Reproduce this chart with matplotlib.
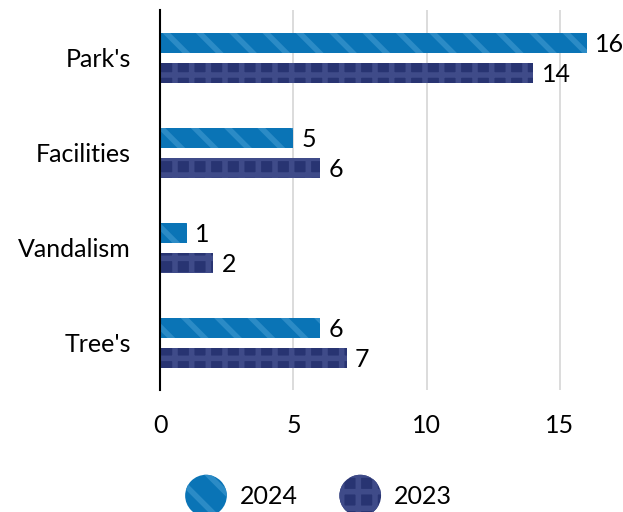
import matplotlib
matplotlib.use('Agg')
import matplotlib.pyplot as plt
import matplotlib.patches as mpatches
from matplotlib.legend_handler import HandlerPatch
import numpy as np

plt.rcParams['font.family'] = ['Lato', 'DejaVu Sans']
plt.rcParams['hatch.linewidth'] = 4.0

categories = ["Tree's", "Vandalism", "Facilities", "Park's"]
values_2024 = [6, 1, 5, 16]
values_2023 = [7, 2, 6, 14]
series_names = ['2024', '2023']

color_2024 = '#0a74b6'
hatch_2024 = '#2b8bc6'
color_2023 = '#283472'
hatch_2023 = '#3f4b89'

fig = plt.figure(figsize=(6.23, 5.12), dpi=100)
ax = fig.add_axes([0.257, 0.238, 0.706, 0.742])

y = np.arange(len(categories))
h = 0.21
off = 0.158

b1 = ax.barh(y + off, values_2024, height=h, color=color_2024, edgecolor=hatch_2024,
             linewidth=0, hatch='\\', label=series_names[0], zorder=3)
b2 = ax.barh(y - off, values_2023, height=h, color=color_2023, edgecolor=hatch_2023,
             linewidth=0, hatch='+', label=series_names[1], zorder=3)

for bars, vals in ((b1, values_2024), (b2, values_2023)):
    for bar, v in zip(bars, vals):
        ax.annotate(str(v), (v, bar.get_y() + bar.get_height() / 2),
                    xytext=(6, -1.5), textcoords='offset points',
                    ha='left', va='center', fontsize=18)

ax.set_xlim(0, 16.5)
ax.set_ylim(-0.5, 3.5)
ax.set_xticks([0, 5, 10, 15])
ax.set_yticks(y)
ax.set_yticklabels(categories)
ax.tick_params(axis='both', length=0, labelsize=18)
ax.tick_params(axis='y', pad=21)
ax.tick_params(axis='x', pad=17)
ax.grid(axis='x', color='#d9d9d9', linewidth=1.3, zorder=0)
for s in ['top', 'right', 'bottom']:
    ax.spines[s].set_visible(False)
ax.spines['left'].set_linewidth(1.5)
ax.spines['left'].set_zorder(4)


class HandlerCircle(HandlerPatch):
    def create_artists(self, legend, orig_handle, xdescent, ydescent,
                       width, height, fontsize, trans):
        center = (0.5 * width - xdescent, 0.5 * height - ydescent)
        p = mpatches.Circle(center, radius=15)
        self.update_prop(p, orig_handle, legend)
        p.set_transform(trans)
        return [p]


fig.legend(handles=[b1.patches[0], b2.patches[0]], labels=series_names,
           handler_map={mpatches.Rectangle: HandlerCircle()},
           loc='center', bbox_to_anchor=(0.512, 0.032), ncol=2, frameon=False,
           fontsize=18, handlelength=1.6, handleheight=1.3,
           columnspacing=1.7, handletextpad=0.55)

fig.savefig('out.png', dpi=100)
